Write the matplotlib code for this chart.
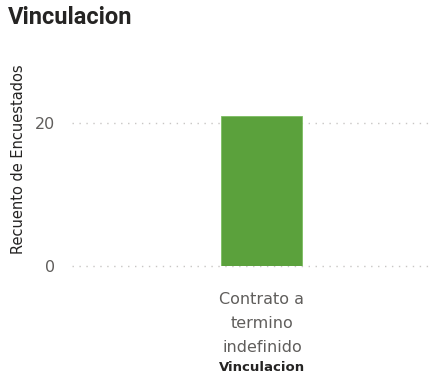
import matplotlib.pyplot as plt

# data
categories = ["Contrato a\ntermino\nindefinido"]
counts = [21]
yticks = [0, 20]

fig = plt.figure(figsize=(4.3, 3.79), dpi=100)
ax = fig.add_axes([0.1674, 0.2982, 0.8326, 0.5646])

ax.bar(range(len(categories)), counts, width=0.6, color="#5BA13C",
       edgecolor="#7DBE62", linewidth=0.6, zorder=3)

ax.set_ylim(0, 30)
ax.set_xlim(-1.407, 1.245)
ax.set_yticks(yticks)
ax.set_yticklabels([str(v) for v in yticks], color="#605E5C", fontsize=11.5)
ax.set_xticks(range(len(categories)))
ax.set_xticklabels(categories, color="#605E5C", fontsize=11.5, linespacing=1.75)
ax.tick_params(length=0, pad=12)
ax.tick_params(axis="x", pad=19)

for v in yticks:
    ax.axhline(v, color="#C8C6C4", linestyle=(0, (1, 4)), linewidth=1,
               zorder=1, clip_on=False)
for s in ax.spines.values():
    s.set_visible(False)

ax.set_ylabel("Recuento de Encuestados", fontsize=10.5, color="#252423")
ax.yaxis.set_label_coords(-0.128, 0.5)
ax.set_xlabel("Vinculacion", fontsize=9.5, color="#252423", fontweight="bold")
ax.xaxis.set_label_coords((262 - 72) / 358, -(368 - 266) / 214, transform=ax.transAxes)
ax.xaxis.label.set_va("center")

fig.text(0.019, 0.953, "Vinculacion", fontsize=17, fontweight="bold",
         family=["Roboto", "DejaVu Sans"], color="#252423", va="center", ha="left")

fig.savefig("out.png", dpi=100)
